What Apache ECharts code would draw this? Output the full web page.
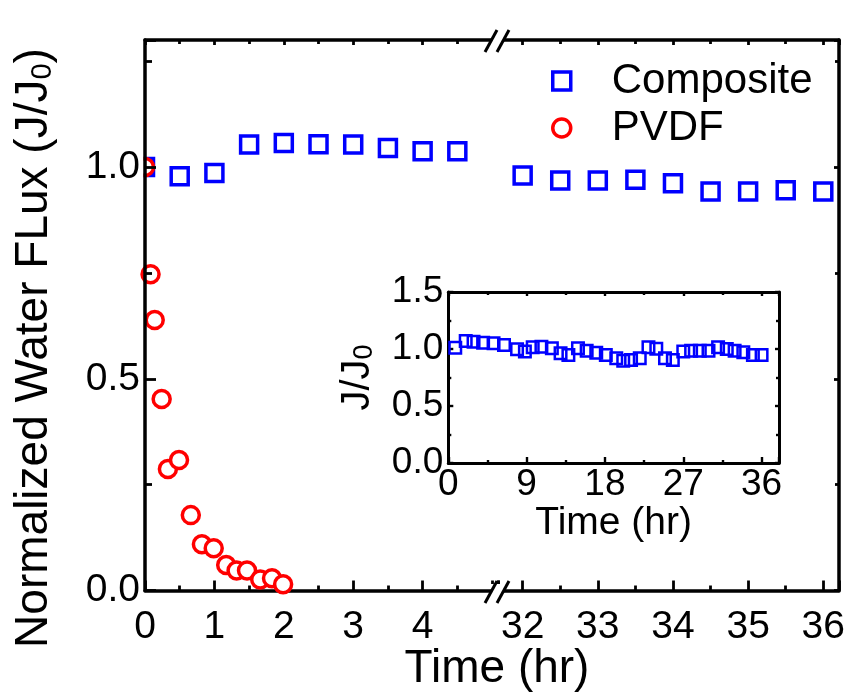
<!DOCTYPE html>
<html><head><meta charset="utf-8">
<script src="https://cdn.jsdelivr.net/npm/echarts@6/dist/echarts.min.js"></script>
<style>html,body{margin:0;padding:0;background:#fff}#c{width:850px;height:698px}</style>
</head><body><div id="c"></div>
<script>
const FONT = '"Liberation Sans", Arial, Helvetica, sans-serif';
const TICKFONT = '"Liberation Sans Narrow", "Arial Narrow", "Liberation Sans", Arial, sans-serif';
const legendNames = ['Composite', 'PVDF'];
// main chart, left segment (0-5 hr)
const timeLeft = [0, 0.5, 1, 1.5, 2, 2.5, 3, 3.5, 4, 4.5];
const compositeLeft = [1.0, 0.978, 0.986, 1.053, 1.057, 1.054, 1.053, 1.045, 1.037, 1.037];
// main chart, right segment (32-36 hr)
const timeRight = [32, 32.5, 33, 33.5, 34, 34.5, 35, 35.5, 36];
const compositeRight = [0.980, 0.968, 0.968, 0.970, 0.962, 0.942, 0.942, 0.945, 0.942];
// PVDF
const pvdfTime = [0, 0.08, 0.14, 0.24, 0.33, 0.49, 0.66, 0.82, 0.99, 1.17, 1.32, 1.47, 1.66, 1.83, 1.99];
const pvdfFlux = [1.0, 0.747, 0.639, 0.452, 0.287, 0.308, 0.178, 0.109, 0.100, 0.060, 0.047, 0.047, 0.026, 0.029, 0.015];
// inset (0-36 hr)
const insetTime = [0.8, 2, 2.9, 4, 5.2, 6.4, 7.9, 8.8, 9.7, 10.7, 11.9, 12.9, 13.8, 14.9, 15.9, 17, 18.1, 19.3, 20.1, 21, 22, 23, 23.9, 24.9, 25.8, 27, 27.9, 28.9, 29.9, 31, 32, 32.9, 33.9, 35, 36];
const insetFlux = [1.011, 1.07, 1.064, 1.055, 1.05, 1.035, 0.997, 0.977, 1.015, 1.02, 1.006, 0.962, 0.947, 1.006, 0.985, 0.968, 0.947, 0.918, 0.898, 0.904, 0.918, 1.015, 1.003, 0.918, 0.904, 0.977, 0.985, 0.985, 0.985, 1.015, 1.0, 0.985, 0.971, 0.947, 0.947];
// tick label values
const mainXTicksLeft = [0, 1, 2, 3, 4];
const mainXTicksRight = [32, 33, 34, 35, 36];
const mainYTicks = [0, 0.5, 1.0];
const insetXTicks = [0, 9, 18, 27, 36];
const insetYTicks = [0, 0.5, 1.0, 1.5];

const zip = (a, b) => a.map((v, i) => [v, b[i]]);
const near = (v, list) => list.some(t => Math.abs(t - v) < 1e-6);

const BLUE = '#0000ff', RED = '#ff0000';
const lineS = w => ({show: true, onZero: false, lineStyle: {color: '#000', width: w}});

function xAx(gridIndex, min, max, position, ticks, major, minor, lw, fs, margin) {
  return {
    type: 'value', gridIndex, min, max, position,
    axisLine: lineS(lw),
    axisTick: {show: true, inside: true, length: major, lineStyle: {color: '#000', width: lw * 0.8}},
    minorTick: {show: true, splitNumber: 2, length: minor, lineStyle: {color: '#000', width: lw * 0.8}},
    splitLine: {show: false},
    axisLabel: ticks ? {show: true, margin, color: '#000', fontSize: fs, fontFamily: TICKFONT,
      formatter: v => near(v, ticks) ? String(Math.round(v)) : ''} : {show: false}
  };
}
function yAx(gridIndex, min, max, interval, position, ticks, major, minor, lw, fs, margin, z) {
  return {
    type: 'value', gridIndex, min, max, interval, position, z: z || 0,
    axisLine: lineS(lw),
    axisTick: {show: true, inside: true, length: major, lineStyle: {color: '#000', width: lw * 0.8}},
    minorTick: {show: true, splitNumber: 2, length: minor, lineStyle: {color: '#000', width: lw * 0.8}},
    splitLine: {show: false},
    axisLabel: ticks ? {show: true, margin, color: '#000', fontSize: fs, fontFamily: TICKFONT,
      formatter: v => near(v, ticks) ? v.toFixed(1) : ''} : {show: false}
  };
}

const insetX = xAx(2, 0, 38, 'bottom', insetXTicks, 6, 3, 3, 37, 3);
insetX.interval = 9;
insetX.name = 'Time (hr)';
insetX.nameLocation = 'middle';
insetX.nameGap = 36;
insetX.nameTextStyle = {fontSize: 39, fontFamily: FONT, color: '#000'};
const insetXTop = xAx(2, 0, 38, 'top', null, 4, 3, 3);
insetXTop.interval = 9;

const insetY = yAx(2, 0, 1.5, 0.5, 'left', insetYTicks, 5, 3, 3, 37, 5);
insetY.name = 'J/J{s|0}';
insetY.nameLocation = 'middle';
insetY.nameGap = 70;
insetY.nameTextStyle = {fontSize: 40, fontFamily: FONT, color: '#000',
  rich: {s: {fontSize: 27, fontFamily: FONT, color: '#000', verticalAlign: 'bottom'}}};

const option = {
  backgroundColor: '#fff',
  animation: false,
  grid: [
    {left: 145, top: 40, width: 353, height: 550.5},
    {left: 498, top: 40, width: 341, height: 550.5},
    {left: 448.3, top: 292, width: 330.7, height: 171}
  ],
  xAxis: [
    xAx(0, 0, 5.086, 'bottom', mainXTicksLeft, 10, 5, 3.5, 39, 17),
    xAx(0, 0, 5.086, 'top', null, 5, 4, 3.5),
    xAx(1, 31.672, 36.209, 'bottom', mainXTicksRight, 10, 5, 3.5, 39, 17),
    xAx(1, 31.672, 36.209, 'top', null, 5, 4, 3.5),
    insetX, insetXTop
  ],
  yAxis: [
    yAx(0, 0, 1.3, 0.5, 'left', mainYTicks, 11, 7, 3.5, 39, 5, 10),
    yAx(1, 0, 1.3, 0.5, 'right', null, 5, 4, 3.5),
    insetY,
    yAx(2, 0, 1.5, 0.5, 'right', null, 4, 3, 3)
  ],
  legend: {
    data: legendNames, orient: 'vertical', left: 546, top: 55,
    itemWidth: 18, itemHeight: 18, itemGap: 5,
    itemStyle: {borderWidth: 3.5},
    textStyle: {fontSize: 42, fontFamily: FONT, color: '#000', padding: [0, 0, 0, 36]}
  },
  series: [
    {name: 'Composite', type: 'scatter', xAxisIndex: 0, yAxisIndex: 0, symbol: 'rect', symbolSize: 17,
      itemStyle: {color: '#fff', borderColor: BLUE, borderWidth: 3.5, opacity: 1}, data: zip(timeLeft, compositeLeft)},
    {name: 'Composite', type: 'scatter', xAxisIndex: 2, yAxisIndex: 1, symbol: 'rect', symbolSize: 17,
      itemStyle: {color: '#fff', borderColor: BLUE, borderWidth: 3.5, opacity: 1}, data: zip(timeRight, compositeRight)},
    {name: 'PVDF', type: 'scatter', xAxisIndex: 0, yAxisIndex: 0, symbol: 'circle', symbolSize: 17,
      itemStyle: {color: '#fff', borderColor: RED, borderWidth: 3.5, opacity: 1}, data: zip(pvdfTime, pvdfFlux)},
    {name: 'Composite inset', type: 'scatter', xAxisIndex: 4, yAxisIndex: 2, symbol: 'rect', symbolSize: 11.5,
      itemStyle: {color: 'rgba(255,255,255,0)', borderColor: BLUE, borderWidth: 2.5, opacity: 1}, data: zip(insetTime, insetFlux)}
  ],
  graphic: [
    // clip mask left of the main y axis
    {type: 'rect', z: 5, shape: {x: 118, y: 150, width: 25.5, height: 36}, style: {fill: '#fff'}},
    // axis break gaps
    {type: 'rect', z: 5, shape: {x: 491, y: 34, width: 13, height: 13}, style: {fill: '#fff'}},
    {type: 'rect', z: 5, shape: {x: 491, y: 584, width: 13, height: 13}, style: {fill: '#fff'}},
    {type: 'line', z: 6, shape: {x1: 485, y1: 52, x2: 497, y2: 30}, style: {stroke: '#000', lineWidth: 3}},
    {type: 'line', z: 6, shape: {x1: 497, y1: 52, x2: 509, y2: 30}, style: {stroke: '#000', lineWidth: 3}},
    {type: 'line', z: 6, shape: {x1: 485, y1: 603, x2: 497, y2: 581}, style: {stroke: '#000', lineWidth: 3}},
    {type: 'line', z: 6, shape: {x1: 497, y1: 603, x2: 509, y2: 581}, style: {stroke: '#000', lineWidth: 3}},
    // axis titles
    {type: 'text', z: 6, x: 497, y: 669, style: {text: 'Time (hr)', fontSize: 46, fontFamily: FONT, fill: '#000', align: 'center', verticalAlign: 'middle'}},
    {type: 'text', z: 6, x: 34, y: 348, rotation: Math.PI / 2,
      style: {text: 'Normalized Water FLux (J/J{s|0})', fontSize: 46, fontFamily: FONT, fill: '#000', align: 'center', verticalAlign: 'middle',
        rich: {s: {fontSize: 29, fontFamily: FONT, fill: '#000', verticalAlign: 'bottom'}}}}
  ]
};
const chart = echarts.init(document.getElementById('c'));
chart.setOption(option);
</script></body></html>
